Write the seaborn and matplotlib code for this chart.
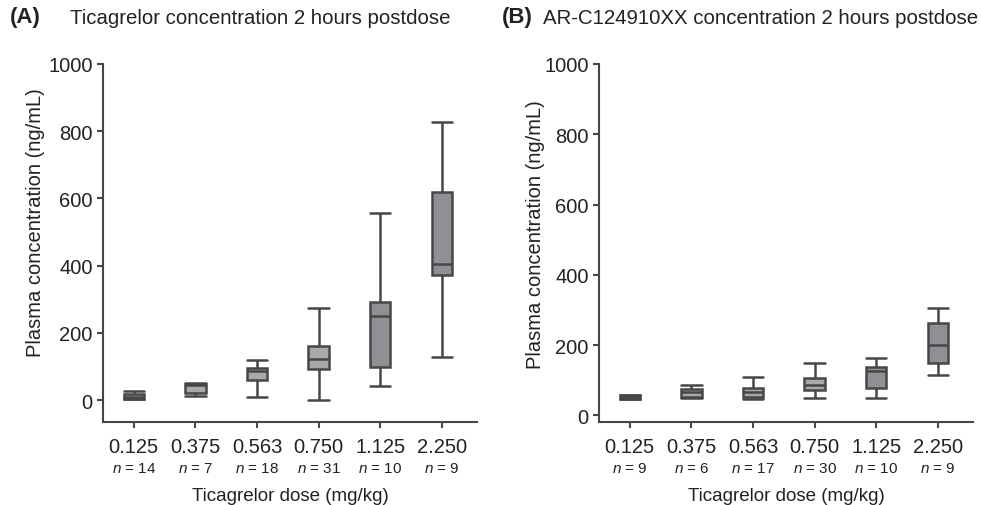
import numpy as np
import pandas as pd
import seaborn as sns
import matplotlib.pyplot as plt

doses = ["0.125", "0.375", "0.563", "0.750", "1.125", "2.250"]

# panel A: ticagrelor (five-number summary per dose, ng/mL)
n_a = [14, 7, 18, 31, 10, 9]
min_a = [2, 12, 10, 0, 43, 129]
q1_a = [4, 22, 60, 92, 98, 373]
med_a = [10, 44, 87, 121, 251, 406]
q3_a = [18, 48, 96, 162, 292, 619]
max_a = [28, 50, 120, 275, 557, 828]

# panel B: AR-C124910XX
n_b = [9, 6, 17, 30, 10, 9]
min_b = [46, 49, 46, 50, 50, 116]
q1_b = [47, 51, 53, 73, 78, 150]
med_b = [52, 65, 66, 86, 127, 199]
q3_b = [58, 76, 79, 107, 137, 264]
max_b = [59, 87, 110, 149, 163, 306]

box_colors = ["#a9a9ab", "#a9a9ab", "#a9a9ab", "#a9a9ab", "#8f9094", "#8f9094"]
edge = "#474747"
text_c = "#222222"

sns.set_theme(style="white")
plt.rcParams['font.family'] = ['Liberation Sans', 'DejaVu Sans']
plt.rcParams['mathtext.fontset'] = 'custom'
plt.rcParams['mathtext.it'] = 'Liberation Sans:italic'
plt.rcParams['mathtext.rm'] = 'Liberation Sans'


def summary_frame(mins, q1, med, q3, maxs):
    # five values per dose reproduce the quartiles exactly with whis=(0, 100)
    rows = []
    for i, d in enumerate(doses):
        for v in (mins[i], q1[i], med[i], q3[i], maxs[i]):
            rows.append({"dose": d, "value": v})
    return pd.DataFrame(rows)


def draw_panel(ax, df, counts, ylim, letter, title, title_x, letter_x, ylab_xy):
    width = 0.33
    sns.boxplot(data=df, x="dose", y="value", hue="dose", palette=box_colors,
                legend=False, width=width, whis=(0, 100), linewidth=1.8,
                linecolor=edge, saturation=1, ax=ax)
    # caps as wide as the boxes
    for ln in ax.lines:
        xd, yd = np.asarray(ln.get_xdata(), float), np.asarray(ln.get_ydata(), float)
        if len(xd) == 2 and yd[0] == yd[1] and (xd[1] - xd[0]) < width - 1e-6:
            c = xd.mean()
            ln.set_xdata([c - width / 2, c + width / 2])
    ax.set_xlim(-0.5, 5.57)
    ax.set_ylim(*ylim)
    ax.set_yticks([0, 200, 400, 600, 800, 1000])
    ax.set_xticks(range(len(doses)))
    ax.set_xticklabels(doses)
    sns.despine(ax=ax)
    for s in ("left", "bottom"):
        ax.spines[s].set_linewidth(1.5)
        ax.spines[s].set_color(edge)
    ax.tick_params(axis="both", direction="out", length=4.5, width=1.5,
                   color=edge, labelsize=14.5, labelcolor=text_c, pad=3,
                   bottom=True, left=True)
    ax.tick_params(axis="x", pad=6)
    for i, n in enumerate(counts):
        ax.text(i, -0.128, f"$n$ = {n}", transform=ax.get_xaxis_transform(),
                ha="center", va="center", fontsize=11, color=text_c)
    ax.set_xlabel("")
    ax.text(0.5, -0.205, "Ticagrelor dose (mg/kg)", transform=ax.transAxes,
            ha="center", va="center", fontsize=13.5, color=text_c)
    ax.set_ylabel("Plasma concentration (ng/mL)", fontsize=14.5, color=text_c)
    ax.yaxis.set_label_coords(*ylab_xy)
    fig = ax.figure
    fig.text(letter_x, 1 - 18 / 506, letter, fontsize=16, fontweight="bold",
             ha="left", va="center", color=text_c)
    fig.text(title_x, 1 - 18 / 506, title, fontsize=14.7, ha="left",
             va="center", color=text_c)


fig = plt.figure(figsize=(9.81, 5.06), dpi=100)
ax_a = fig.add_axes([103 / 981, 83 / 506, 374 / 981, 358 / 506])
ax_b = fig.add_axes([599 / 981, 83 / 506, 374 / 981, 358 / 506])

draw_panel(ax_a, summary_frame(min_a, q1_a, med_a, q3_a, max_a), n_a, (-65, 1000),
           "(A)", "Ticagrelor concentration 2 hours postdose", 70 / 981, 10 / 981,
           (-0.155, 0.56))
draw_panel(ax_b, summary_frame(min_b, q1_b, med_b, q3_b, max_b), n_b, (-19, 1000),
           "(B)", "AR-C124910XX concentration 2 hours postdose", 543 / 981, 502 / 981,
           (-0.145, 0.525))

fig.savefig("out.png", dpi=100)
